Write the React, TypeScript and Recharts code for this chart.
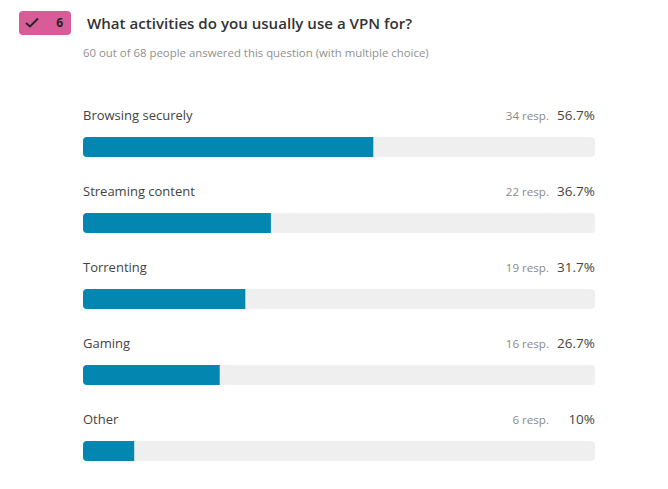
import { BarChart, Bar, XAxis, YAxis } from 'recharts';

const activities = ['Browsing securely', 'Streaming content', 'Torrenting', 'Gaming', 'Other'];
const responses = [34, 22, 19, 16, 6];
const percents = [56.7, 36.7, 31.7, 26.7, 10];

const chartData = activities.map((name, i) => ({
  name,
  resp: responses[i],
  pct: percents[i],
}));

const FONT = '"Open Sans", "Noto Sans", sans-serif';

function LeftTick({ y, payload }: any) {
  return (
    <text x={83} y={y - 27} fill="#444444" fontSize={13} fontFamily={FONT}>
      {payload.value}
    </text>
  );
}

function RightTick({ y, payload }: any) {
  const row = chartData.find((d) => d.name === payload.value);
  return (
    <g fontFamily={FONT}>
      <text x={549} y={y - 27} fill="#8a8a8a" fontSize={11.6} textAnchor="end">
        {row?.resp} resp.
      </text>
      <text x={595} y={y - 27} fill="#444444" fontSize={13.5} textAnchor="end">
        {row?.pct}%
      </text>
    </g>
  );
}

export default function App() {
  return (
    <div style={{ position: 'absolute', left: 0, top: 0, width: 668, height: 489, background: '#fff' }}>
      <div
        style={{
          position: 'absolute',
          left: 19,
          top: 11,
          width: 52,
          height: 24,
          background: '#D85C97',
          borderRadius: 4,
        }}
      >
        <svg width={52} height={24} style={{ position: 'absolute', left: 0, top: 0 }}>
          <path d="M7 12 L11 15.5 L19 7.5" fill="none" stroke="#222" strokeWidth={1.8} />
        </svg>
        <span
          style={{
            position: 'absolute',
            right: 8,
            top: 4,
            fontFamily: FONT,
            fontSize: 12,
            fontWeight: 700,
            lineHeight: '16px',
            color: '#222',
          }}
        >
          6
        </span>
      </div>
      <div
        style={{
          position: 'absolute',
          left: 87,
          top: 13,
          fontFamily: FONT,
          fontSize: 15.1,
          fontWeight: 600,
          lineHeight: '20px',
          color: '#333',
          whiteSpace: 'nowrap',
        }}
      >
        What activities do you usually use a VPN for?
      </div>
      <div
        style={{
          position: 'absolute',
          left: 83,
          top: 45,
          fontFamily: FONT,
          fontSize: 11.4,
          lineHeight: '16px',
          color: '#909090',
          whiteSpace: 'nowrap',
        }}
      >
        60 out of 68 people answered this question (with multiple choice)
      </div>
      <BarChart
        width={668}
        height={489}
        data={chartData}
        layout="vertical"
        margin={{ top: 109, right: 0, left: 0, bottom: 0 }}
        style={{ position: 'absolute', left: 0, top: 0 }}
      >
        <XAxis type="number" domain={[0, 100]} hide />
        <YAxis
          yAxisId="left"
          type="category"
          dataKey="name"
          width={83}
          axisLine={false}
          tickLine={false}
          tick={LeftTick}
          interval={0}
        />
        <YAxis
          yAxisId="right"
          orientation="right"
          type="category"
          dataKey="name"
          width={73}
          axisLine={false}
          tickLine={false}
          tick={RightTick}
          interval={0}
        />
        <Bar
          yAxisId="left"
          dataKey="pct"
          barSize={20}
          fill="#0386B0"
          radius={[4, 0, 0, 4]}
          background={{ fill: '#EFEFEF', radius: 4 }}
          isAnimationActive={false}
        />
      </BarChart>
    </div>
  );
}
